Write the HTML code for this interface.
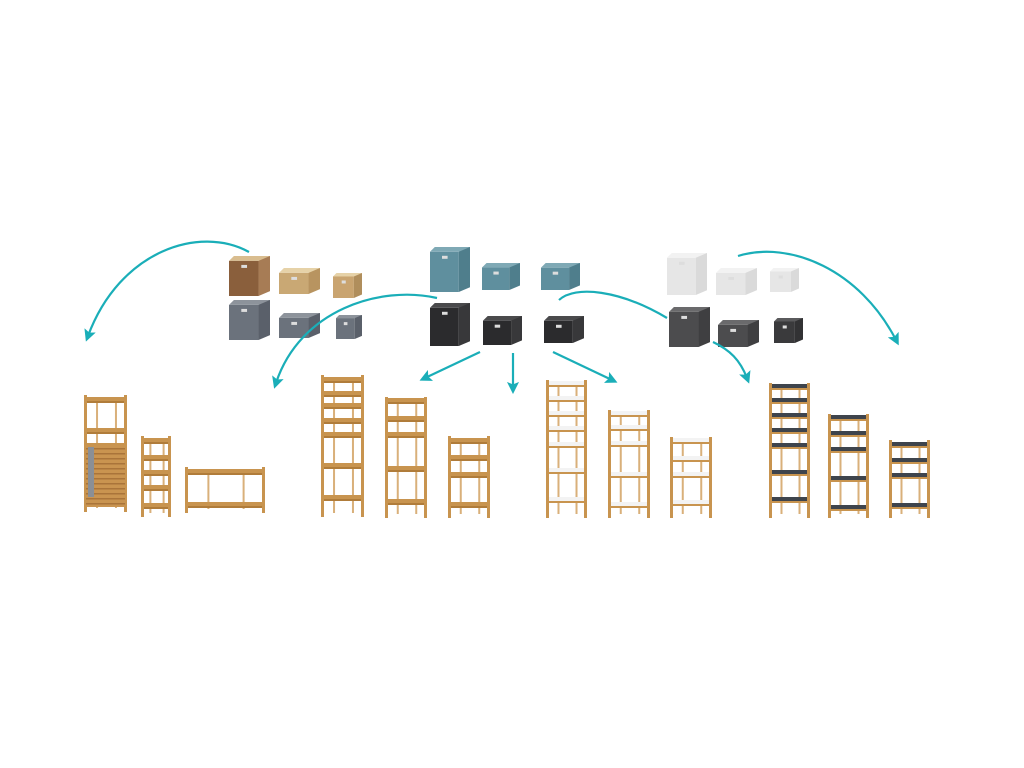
<!DOCTYPE html>
<html><head><meta charset="utf-8"><style>
html,body{margin:0;padding:0;background:#fff;width:1024px;height:768px;overflow:hidden}
svg{display:block}
</style></head><body>
<svg id="s" width="1024" height="768" viewBox="0 0 1024 768" xmlns="http://www.w3.org/2000/svg">
<defs>
<marker id="ah" viewBox="0 0 10 10" refX="5" refY="5" markerWidth="5.5" markerHeight="5.5" orient="auto-start-reverse">
<path d="M0,0 L10,5 L0,10 L2,5 z" fill="#1aaeb8"/></marker>
</defs>
<rect width="1024" height="768" fill="#fff"/>
<g id="g"></g>
<g fill="none" stroke="#1aaeb8" stroke-width="2.2" marker-end="url(#ah)">
<path d="M249,252 C200,225 120,250 88,336"/>
<path d="M437,298 C380,285 300,310 276,383"/>
<path d="M480,352 L425,378"/>
<path d="M513,353 L513,388"/>
<path d="M553,352 L612,380"/>
<path d="M713,342 C730,350 740,360 747,378"/>
<path d="M738,256 C790,240 860,270 896,340"/>
</g>
<path d="M559,300 C575,285 620,290 667,318" fill="none" stroke="#1aaeb8" stroke-width="2.2"/>
</svg>
<script>
var g=document.getElementById('g'),NS='http://www.w3.org/2000/svg';
function el(t,a){var e=document.createElementNS(NS,t);for(var k in a)e.setAttribute(k,a[k]);g.appendChild(e);return e;}
function box(x1,y1,x2,y2,front,side,top){
 var d=(x2-x1)*0.12;
 el('polygon',{points:(x1+d)+','+y1+' '+(x2)+','+y1+' '+(x2-d*0.3)+','+(y1+d)+' '+(x1)+','+(y1+d),fill:top});
 el('rect',{x:x1,y:y1+d,width:(x2-x1)*0.72,height:y2-y1-d,fill:front});
 el('polygon',{points:(x1+(x2-x1)*0.72)+','+(y1+d)+' '+x2+','+y1+' '+x2+','+(y2-d)+' '+(x1+(x2-x1)*0.72)+','+y2,fill:side});
 el('rect',{x:x1+(x2-x1)*0.3,y:y1+d+4,width:(x2-x1)*0.14,height:3,fill:'#ddd'});
}
var B=[
[229,256,270,296,'#8a5f3c','#a77c55','#d9bd8f'],[279,268,320,294,'#c9a874','#b89460','#e6d2a8'],[333,273,362,298,'#c9a470','#b08e5c','#e6d2a8'],
[229,300,270,340,'#6b727c','#5a606a','#8d939b'],[279,313,320,338,'#6b727c','#5a606a','#8d939b'],[336,315,362,339,'#6b727c','#5a606a','#8d939b'],
[430,247,470,292,'#5f8f9e','#4f7e8c','#7fa9b5'],[482,263,520,290,'#5f8f9e','#4f7e8c','#7fa9b5'],[541,263,580,290,'#5f8f9e','#4f7e8c','#7fa9b5'],
[430,303,470,346,'#2b2b2d','#38383a','#4a4a4c'],[483,316,522,345,'#2b2b2d','#38383a','#4a4a4c'],[544,316,584,343,'#2b2b2d','#38383a','#4a4a4c'],
[667,253,707,295,'#e6e6e6','#dadada','#f2f2f2'],[716,268,757,295,'#e6e6e6','#dadada','#f2f2f2'],[770,268,799,292,'#e6e6e6','#dadada','#f2f2f2'],
[669,307,710,347,'#4c4c4e','#3f3f41','#6a6a6c'],[718,320,759,347,'#4c4c4e','#3f3f41','#6a6a6c'],[774,318,803,343,'#3a3a3c','#323234','#5a5a5c']];
B.forEach(function(b){box.apply(null,b);});
var W='#c8944f';
function unit(x1,x2,top,bot,sh,col){
 var w=x2-x1;
 el('rect',{x:x1+w*0.28,y:top+2,width:2,height:bot-top-6,fill:'#d9b07a'});
 el('rect',{x:x2-w*0.28,y:top+2,width:2,height:bot-top-6,fill:'#d9b07a'});
 sh.forEach(function(y){
  el('polygon',{points:(x1+3)+','+y+' '+(x2-3)+','+y+' '+(x2-1)+','+(y+5)+' '+(x1+1)+','+(y+5),fill:col});
  el('rect',{x:x1,y:y+4,width:w,height:2,fill:col==W?'#b07c3a':'#c8944f'});
 });
 el('rect',{x:x1,y:top,width:3,height:bot-top,fill:W});
 el('rect',{x:x2-3,y:top,width:3,height:bot-top,fill:W});
}
var S=[
[141,171,436,517,[438,455,470,485,503],W],
[185,265,467,513,[469,502],W],
[321,364,375,517,[377,391,403,418,432,463,495],W],
[385,427,397,518,[398,416,432,466,499],W],
[448,490,436,518,[438,455,472,502],W],
[546,587,380,518,[381,396,411,426,442,468,497],'#f3f3f3'],
[608,650,410,518,[411,425,441,472,502],'#f3f3f3'],
[670,712,437,518,[438,456,472,500],'#f3f3f3'],
[769,810,383,518,[384,398,413,428,443,470,497],'#3e444c'],
[828,869,414,518,[415,431,447,476,505],'#3e444c'],
[889,930,440,518,[442,458,473,503],'#3e444c']];
S.forEach(function(s){unit.apply(null,s);});
unit(84,127,395,512,[397,428,443],W);
el('rect',{x:86,y:445,width:39,height:62,fill:'#c99450'});
for(var y=448;y<505;y+=5)el('rect',{x:86,y:y,width:39,height:1.5,fill:'#a9743a'});
el('rect',{x:88,y:447,width:6,height:50,fill:'#8a8f96'});
</script>
</body></html>
